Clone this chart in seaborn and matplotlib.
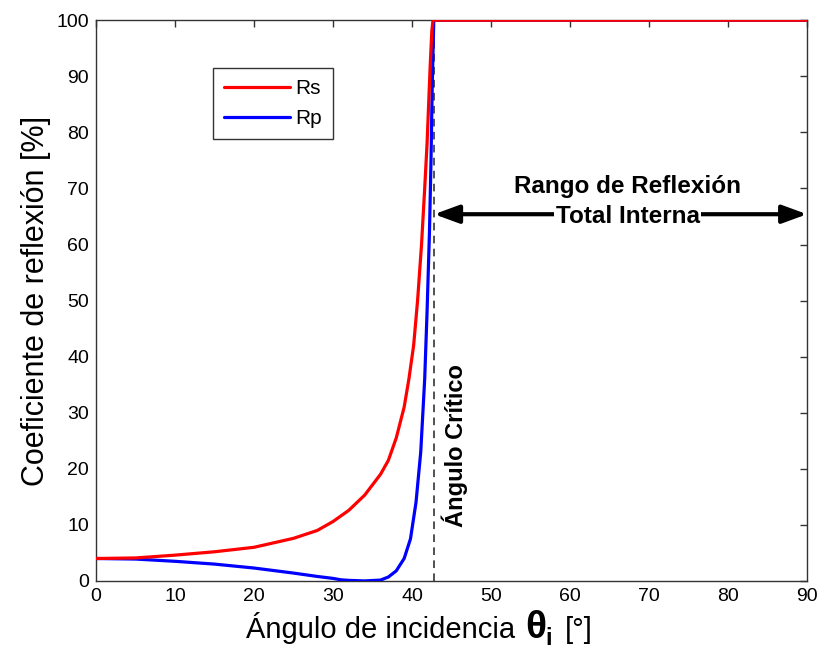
import numpy as np
import pandas as pd
import matplotlib
matplotlib.use("Agg")
import matplotlib.pyplot as plt
import seaborn as sns

# ---- data ----
ang_s = [0, 5, 10, 15, 20, 25, 28, 30, 32, 34, 36, 37, 38, 39, 39.6, 40.2,
         40.7, 41.2, 41.6, 41.9, 42.1, 42.3, 42.5, 42.65, 50, 60, 70, 80, 90]
rs = [4.0, 4.1, 4.6, 5.2, 6.0, 7.6, 9.0, 10.6, 12.6, 15.3, 19.0, 21.5, 25.5, 31.0,
      36.0, 42.0, 50.0, 60.0, 70.0, 78.0, 85.0, 92.0, 98.0, 100, 100, 100, 100, 100, 100]

ang_p = [0, 5, 10, 15, 20, 25, 28, 30, 31, 32, 34, 36, 37, 38, 39, 39.8, 40.5,
         41.1, 41.6, 41.9, 42.2, 42.4, 42.55, 42.75, 50, 60, 70, 80, 90]
rp = [4.0, 3.9, 3.5, 3.0, 2.3, 1.4, 0.8, 0.45, 0.2, 0.1, 0.0, 0.15, 0.7, 1.8, 4.0,
      7.5, 14.0, 23.0, 36.0, 48.0, 62.0, 75.0, 88.0, 100, 100, 100, 100, 100, 100]

theta_c = 42.8
xticks = list(range(0, 91, 10))
yticks = list(range(0, 101, 10))

df = pd.concat([
    pd.DataFrame({"ang": ang_s, "R": rs, "serie": "Rs"}),
    pd.DataFrame({"ang": ang_p, "R": rp, "serie": "Rp"}),
])

sns.set_style("white")
plt.rcParams["font.family"] = ["Liberation Sans", "DejaVu Sans"]
plt.rcParams["text.color"] = "black"
plt.rcParams["axes.labelcolor"] = "black"
plt.rcParams["xtick.color"] = "#333333"
plt.rcParams["ytick.color"] = "#333333"
plt.rcParams["xtick.labelcolor"] = "black"
plt.rcParams["ytick.labelcolor"] = "black"

fig = plt.figure(figsize=(8.21, 6.52), dpi=100)
ax = fig.add_axes([0.117, 0.109, 0.866, 0.86])

sns.lineplot(data=df[df.serie == "Rp"], x="ang", y="R", color="#0000ff",
             lw=2.3, ax=ax, label="Rp", zorder=3)
sns.lineplot(data=df[df.serie == "Rs"], x="ang", y="R", color="#ff0000",
             lw=2.3, ax=ax, label="Rs", zorder=4)

ax.axvline(theta_c, color="#222222", ls=(0, (5, 3.5)), lw=1.1, zorder=2)

ax.set_xlim(0, 90)
ax.set_ylim(0, 100)
ax.set_xticks(xticks)
ax.set_yticks(yticks)
ax.tick_params(direction="in", top=True, right=True, length=5, width=1,
               labelsize=14, pad=5)
for s in ax.spines.values():
    s.set_color("#333333")
    s.set_linewidth(1)

ax.set_ylabel("Coeficiente de reflexión [%]", fontsize=22, labelpad=4)
ax.set_xlabel("")
fig.text(0.627, 0.022, "Ángulo de incidencia", fontsize=21, ha="right", va="baseline")
fig.text(0.640, 0.022, "θ", fontsize=28, fontweight="bold", ha="left", va="baseline")
fig.text(0.664, 0.010, "i", fontsize=17, fontweight="bold", ha="left", va="baseline")
fig.text(0.688, 0.022, "[°]", fontsize=21, ha="left", va="baseline")

# annotations
ax.text(45.4, 9.6, "Ángulo Crítico", rotation=90, fontsize=17, fontweight="bold",
        ha="center", va="bottom")
ax.annotate("", xy=(theta_c, 65.4), xytext=(90, 65.4),
            arrowprops=dict(arrowstyle="<|-|>,head_length=1.5,head_width=0.55",
                            color="black", lw=3, shrinkA=0, shrinkB=0))
ax.text(67.3, 70.4, "Rango de Reflexión", fontsize=17.5, fontweight="bold",
        ha="center", va="center")
ax.text(67.3, 65.0, "Total Interna", fontsize=17.5, fontweight="bold",
        ha="center", va="center",
        bbox=dict(facecolor="white", edgecolor="none", pad=1))

handles, labels = ax.get_legend_handles_labels()
order = [labels.index("Rs"), labels.index("Rp")]
leg = ax.legend([handles[i] for i in order], [labels[i] for i in order],
                loc="upper left", bbox_to_anchor=(0.165, 0.914), fontsize=15,
                frameon=True, fancybox=False, edgecolor="black",
                borderaxespad=0, handlelength=3.2, borderpad=0.5,
                labelspacing=0.55, handletextpad=0.25)
leg.get_frame().set_linewidth(1)

fig.savefig("out.png", dpi=100)
